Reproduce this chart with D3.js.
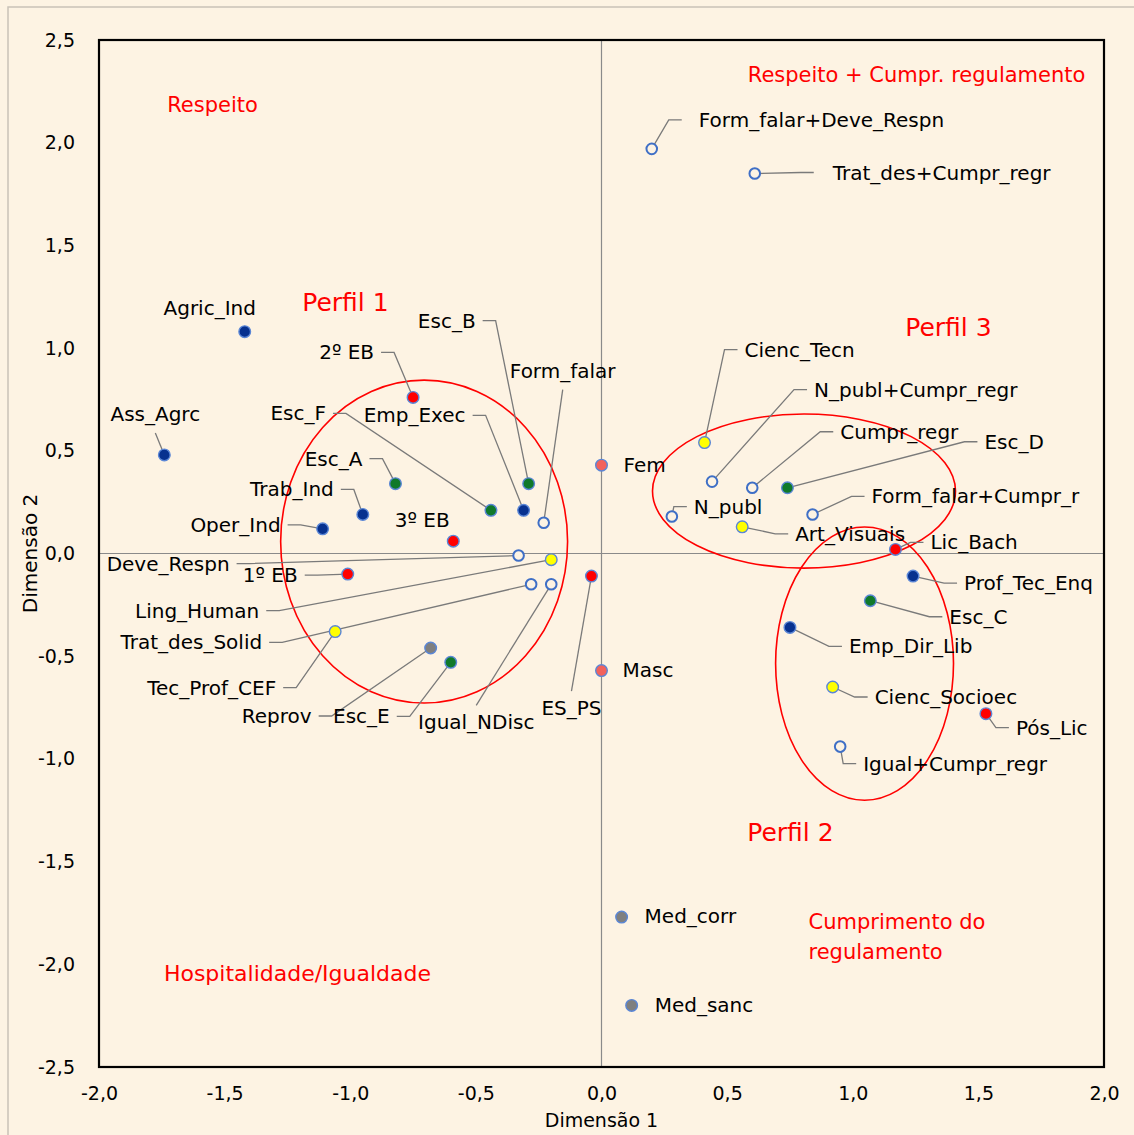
<!DOCTYPE html>
<html>
<head>
<meta charset="utf-8">
<script src="https://cdn.jsdelivr.net/npm/d3@7"></script>
<style>
  html, body { margin: 0; padding: 0; background: #fdf3e3; }
  svg text { font-family: "DejaVu Sans", sans-serif; }
</style>
</head>
<body>
<div class="chartContainer"></div>
<script>
// ======= data ========

var names = ["Agric_Ind", "Ass_Agrc", "2º EB", "Esc_F", "Emp_Exec", "Esc_B", "Form_falar", "Esc_A",
  "Trab_Ind", "Oper_Ind", "3º EB", "Deve_Respn", "1º EB", "Ling_Human", "Trat_des_Solid", "Tec_Prof_CEF",
  "Reprov", "Esc_E", "Igual_NDisc", "ES_PS", "Fem", "Masc", "Form_falar+Deve_Respn", "Trat_des+Cumpr_regr",
  "Cienc_Tecn", "N_publ+Cumpr_regr", "Cumpr_regr", "Esc_D", "Form_falar+Cumpr_r", "N_publ", "Art_Visuais",
  "Lic_Bach", "Prof_Tec_Enq", "Esc_C", "Emp_Dir_Lib", "Cienc_Socioec", "Pós_Lic", "Igual+Cumpr_regr",
  "Med_corr", "Med_sanc"];

var dim1 = [-1.42, -1.74, -0.75, -0.44, -0.31, -0.29, -0.23, -0.82,
  -0.95, -1.11, -0.59, -0.33, -1.01, -0.20, -0.28, -1.06,
  -0.68, -0.60, -0.20, -0.04, 0.00, 0.00, 0.20, 0.61,
  0.41, 0.44, 0.60, 0.74, 0.84, 0.28, 0.56,
  1.17, 1.24, 1.07, 0.75, 0.92, 1.53, 0.95,
  0.08, 0.12];

var dim2 = [1.08, 0.48, 0.76, 0.21, 0.21, 0.34, 0.15, 0.34,
  0.19, 0.12, 0.06, -0.01, -0.10, -0.03, -0.15, -0.38,
  -0.46, -0.53, -0.15, -0.11, 0.43, -0.57, 1.97, 1.85,
  0.54, 0.35, 0.32, 0.32, 0.19, 0.18, 0.13,
  0.02, -0.11, -0.23, -0.36, -0.65, -0.78, -0.94,
  -1.77, -2.20];

// variable each category belongs to
var groups = ["ocup", "ocup", "nivel", "escola", "ocup", "escola", "regra", "escola",
  "ocup", "ocup", "nivel", "regra", "nivel", "curso", "regra", "curso",
  "sancao", "escola", "regra", "nivel", "sexo", "sexo", "regra", "regra",
  "curso", "regra", "regra", "escola", "regra", "regra", "curso",
  "nivel", "ocup", "escola", "ocup", "curso", "nivel", "regra",
  "sancao", "sancao"];

// profiles drawn as ellipses (centre and radii in axis units)
var profileCx = [-0.706, 0.806, 1.047];
var profileCy = [0.058, 0.304, -0.536];
var profileRx = [0.571, 0.603, 0.354];
var profileRy = [0.786, 0.375, 0.665];

var notes = ["Respeito", "Respeito + Cumpr. regulamento", "Perfil 1", "Perfil 3", "Perfil 2",
  "Cumprimento do", "regulamento", "Hospitalidade/Igualdade"];
var noteX = [-1.548, 1.254, -1.019, 1.381, 0.752, 0.824, 0.824, -1.210];
var noteY = [2.184, 2.330, 1.224, 1.098, -1.356, -1.794, -1.940, -2.047];

var xTicks = [-2, -1.5, -1, -0.5, 0, 0.5, 1, 1.5, 2];
var yTicks = [-2.5, -2, -1.5, -1, -0.5, 0, 0.5, 1, 1.5, 2, 2.5];

// ======= label layout (pixel offset from point, anchor, leader kind, gap) ========

var labelLayout = [
  [-35, -24, "middle", "none"], [-9, -41, "middle", "bottom"], [-39, -45, "end", "elbow"],
  [-165, -97, "end", "elbow"], [-58, -95, "end", "elbow"], [-53, -163, "end", "elbow"],
  [19, -152, "middle", "bottom"], [-33, -25, "end", "elbow"], [-29, -25, "end", "elbow"],
  [-42, -4, "end", "elbow"], [-31, -21, "middle", "none"], [-289, 8, "end", "elbow"],
  [-50, 1, "end", "elbow"], [-292, 51, "end", "elbow"], [-269, 58, "end", "elbow"],
  [-59, 56, "end", "elbow"], [-119, 68, "end", "elbow"], [-61, 54, "end", "elbow"],
  [-75, 138, "middle", "top"], [-20, 132, "middle", "top"], [22, 0, "start", "none"],
  [21, -1, "start", "none"], [47, -29, "start", "elbow", 17], [78, -1, "start", "elbow", 19],
  [40, -93, "start", "elbow"], [102, -92, "start", "elbow"], [88, -56, "start", "elbow"],
  [197, -46, "start", "elbow"], [59, -18, "start", "elbow"], [22, -10, "start", "elbow"],
  [53, 7, "start", "elbow"], [35, -7, "start", "elbow"], [51, 7, "start", "elbow"],
  [79, 16, "start", "elbow"], [59, 19, "start", "elbow"], [42, 10, "start", "elbow"],
  [30, 14, "start", "elbow"], [23, 17, "start", "elbow"], [23, -1, "start", "none"],
  [23, 0, "start", "none"]
];

var fillColor = {
  ocup: "#07318f", nivel: "#ff0000", escola: "#10792a", sexo: "#f2625c",
  curso: "#ffff00", sancao: "#7f7f7f", regra: "#fdf3e3"
};

var width = 1134;
var height = 1135;
var plot = {left: 99, top: 40, right: 1104, bottom: 1067};

var svg = d3.select(".chartContainer")
  .append("svg")
    .attr("width", width)
    .attr("height", height);

var x = d3.scaleLinear().domain([-2, 2]).range([plot.left, plot.right]);
var y = d3.scaleLinear().domain([-2.5, 2.5]).range([plot.bottom, plot.top]);

var locale = d3.formatLocale({decimal: ",", thousands: ".", grouping: [3], currency: ["", ""], minus: "-"});
var fmt = locale.format(".1f");

// ======= background ========

svg.append("rect")
    .attr("width", width).attr("height", height)
    .style("fill", "#fdf3e3");

svg.append("rect")
    .attr("x", 8).attr("y", 7)
    .attr("width", width + 20).attr("height", height + 20)
    .style("fill", "none")
    .style("stroke", "#c9c2b8")
    .style("stroke-width", 1.5);

// ======= axes ========

var gx = svg.append("g")
    .attr("transform", "translate(0," + plot.bottom + ")")
    .call(d3.axisBottom(x).tickValues(xTicks).tickFormat(fmt).tickSize(0).tickPadding(20));

var gy = svg.append("g")
    .attr("transform", "translate(" + plot.left + ",0)")
    .call(d3.axisLeft(y).tickValues(yTicks).tickFormat(fmt).tickSize(0).tickPadding(24));

[gx, gy].forEach(function(g){
    g.select(".domain").remove();
    g.selectAll("text")
        .style("font-family", "'DejaVu Sans', sans-serif")
        .style("font-size", "19px")
        .style("fill", "#000");
});

// zero lines
svg.append("line")
    .attr("x1", x(0)).attr("x2", x(0))
    .attr("y1", plot.top).attr("y2", plot.bottom)
    .style("stroke", "#8a8a8a").style("stroke-width", 1.2);

svg.append("line")
    .attr("x1", plot.left).attr("x2", plot.right)
    .attr("y1", y(0)).attr("y2", y(0))
    .style("stroke", "#8a8a8a").style("stroke-width", 1.2);

svg.append("rect")
    .attr("x", plot.left).attr("y", plot.top)
    .attr("width", plot.right - plot.left)
    .attr("height", plot.bottom - plot.top)
    .style("fill", "none")
    .style("stroke", "#000")
    .style("stroke-width", 2.2);

svg.append("text")
    .attr("x", x(0)).attr("y", 1120)
    .attr("text-anchor", "middle")
    .attr("dominant-baseline", "central")
    .style("font-size", "19px")
    .text("Dimensão 1");

svg.append("text")
    .attr("transform", "translate(30," + y(0) + ") rotate(-90)")
    .attr("text-anchor", "middle")
    .attr("dominant-baseline", "central")
    .style("font-size", "20px")
    .text("Dimensão 2");

// ======= profile ellipses ========

var profiles = d3.range(profileCx.length);

svg.append("g").selectAll("ellipse")
    .data(profiles)
  .enter().append("ellipse")
    .attr("cx", function(i){ return x(profileCx[i]); })
    .attr("cy", function(i){ return y(profileCy[i]); })
    .attr("rx", function(i){ return x(profileRx[i]) - x(0); })
    .attr("ry", function(i){ return y(0) - y(profileRy[i]); })
    .style("fill", "none")
    .style("stroke", "#ff0000")
    .style("stroke-width", 1.6);

// ======= points and labels ========

var points = names.map(function(n, i){
    var l = labelLayout[i];
    var px = x(dim1[i]), py = y(dim2[i]);
    return {name: n, group: groups[i], px: px, py: py,
            tx: px + l[0], ty: py + l[1], anchor: l[2], leader: l[3], gap: l[4] || 7};
});

function leaderPath(d){
    if (d.leader == "none") return null;
    if (d.leader == "bottom") return [[d.tx, d.ty + 19], [d.px, d.py]];
    if (d.leader == "top") return [[d.tx, d.ty - 17], [d.px, d.py]];
    var dir = d.anchor == "end" ? 1 : -1;
    var sx = d.tx + dir * d.gap;
    return [[sx, d.ty], [sx + dir * 13, d.ty], [d.px, d.py]];
}

var line = d3.line();

svg.append("g").selectAll("path")
    .data(points.filter(function(d){ return d.leader != "none"; }))
  .enter().append("path")
    .attr("d", function(d){ return line(leaderPath(d)); })
    .style("fill", "none")
    .style("stroke", "#7a7a7a")
    .style("stroke-width", 1.3);

svg.append("g").selectAll("circle")
    .data(points)
  .enter().append("circle")
    .attr("cx", function(d){ return d.px; })
    .attr("cy", function(d){ return d.py; })
    .attr("r", function(d){ return d.group == "regra" ? 5.3 : 5.8; })
    .style("fill", function(d){ return fillColor[d.group]; })
    .style("stroke", function(d){ return d.group == "regra" ? "#3f6fc6" : "#5a86d6"; })
    .style("stroke-width", function(d){ return d.group == "regra" ? 2 : 1.4; });

svg.append("g").selectAll("text")
    .data(points)
  .enter().append("text")
    .attr("x", function(d){ return d.tx; })
    .attr("y", function(d){ return d.ty; })
    .attr("text-anchor", function(d){ return d.anchor; })
    .attr("dominant-baseline", "central")
    .style("font-size", "20px")
    .style("fill", "#000")
    .text(function(d){ return d.name; });

// ======= annotations ========

svg.append("g").selectAll("text")
    .data(notes)
  .enter().append("text")
    .attr("x", function(d, i){ return x(noteX[i]); })
    .attr("y", function(d, i){ return y(noteY[i]); })
    .attr("text-anchor", function(d){ return (d == "Cumprimento do" || d == "regulamento") ? "start" : "middle"; })
    .attr("dominant-baseline", "central")
    .style("font-size", function(d){ return d.indexOf("Perfil") == 0 ? "25px" : d == "Hospitalidade/Igualdade" ? "22px" : "21px"; })
    .style("fill", "#ff0000")
    .text(function(d){ return d; });
</script>
</body>
</html>
